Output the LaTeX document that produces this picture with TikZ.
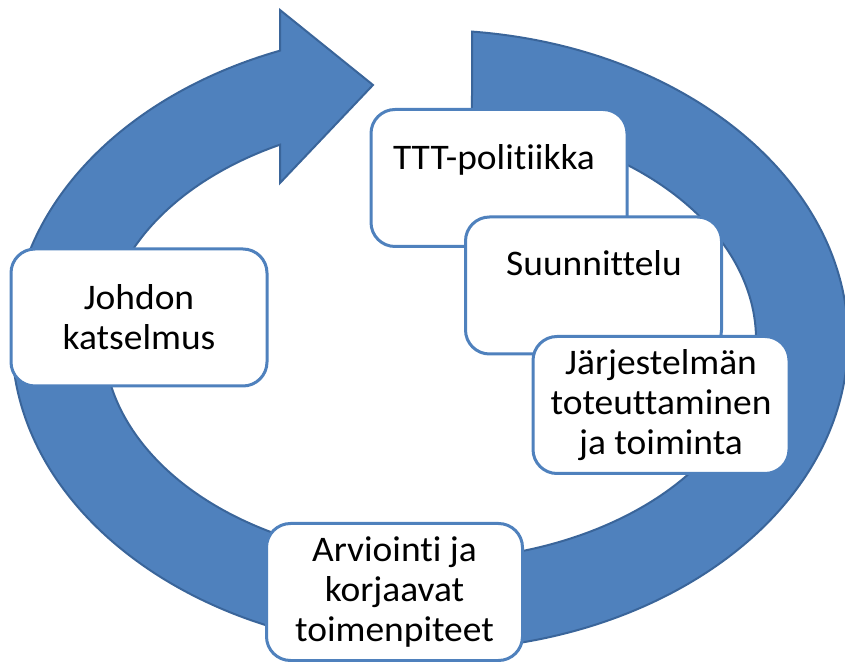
\documentclass[tikz,border=0pt]{standalone}
\usepackage{fontspec}
\setmainfont{Carlito}[Ligatures=NoCommon, FakeStretch=1.04]
\usetikzlibrary{calc}
\definecolor{ringfill}{HTML}{4F81BD}
\definecolor{ringline}{HTML}{3A659A}
\definecolor{boxline}{HTML}{4F81BD}
\begin{document}
\begin{tikzpicture}[x=1pt,y=1pt,
  ring/.style={fill=ringfill, draw=ringline, line width=2pt, line join=miter},
  box/.style={draw=boxline, line width=3pt, fill=white, rounded corners=24pt,
    minimum width=256pt, minimum height=137pt, inner sep=0pt, align=center,
    font=\fontsize{36}{40}\selectfont},
  lbl/.style={font=\fontsize{36}{40}\selectfont, anchor=base, inner sep=0pt}]
\useasboundingbox (0,0) rectangle (845,661);
\coordinate (C) at (430,321);
\path[ring] ($(C)+(84.23:418pt and 310pt)$)
  arc[start angle=84.23, end angle=-248.97, x radius=418pt, y radius=310pt]
  -- (280,651) -- (373,576) -- (280,478)
  -- ($(C)+(117.39:326pt and 220pt)$)
  arc[start angle=117.39, end angle=442.60, x radius=326pt, y radius=220pt]
  -- cycle;
\node[box] (johdon) at (139,343.5) {Johdon\\katselmus};
\node[box] (ttt) at (499,483) {};
\node[lbl] (tttl) at (494,491) {TTT-politiikka};
\node[box] (suun) at (593.5,375.5) {};
\node[lbl] (suunl) at (594,385) {Suunnittelu};
\node[box] (jarj) at (661,256) {Järjestelmän\\toteuttaminen\\ja toiminta};
\node[box] (arv) at (394.5,69) {Arviointi ja\\korjaavat\\toimenpiteet};
\end{tikzpicture}
\end{document}
